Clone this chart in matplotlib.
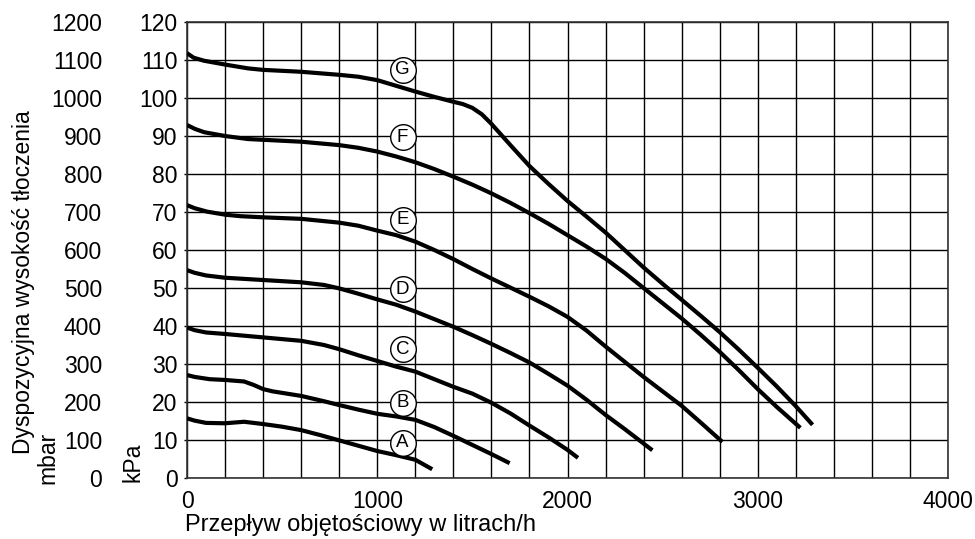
import matplotlib
matplotlib.use("Agg")
import matplotlib.pyplot as plt
from matplotlib.ticker import MultipleLocator, FixedLocator

plt.rcParams['font.family'] = ['Liberation Sans', 'DejaVu Sans']

# flow in l/h, head in kPa
flow_g = [0, 35, 90, 200, 320, 400, 600, 800, 900, 1000, 1100, 1200, 1300, 1400, 1450, 1500,
          1550, 1600, 1650, 1700, 1800, 1900, 2000, 2100, 2200, 2300, 2400, 2500, 2600, 2700,
          2800, 2900, 3000, 3100, 3200, 3288]
head_g = [111.8, 110.6, 109.8, 108.8, 107.8, 107.4, 106.9, 106.1, 105.6, 104.7, 103.2, 101.7,
          100.3, 99.0, 98.4, 97.4, 95.7, 93.2, 90.4, 87.6, 82.1, 77.4, 72.9, 68.8, 64.6, 60.0,
          55.4, 51.1, 46.9, 42.7, 38.4, 33.8, 29.0, 24.1, 18.9, 14.0]

flow_f = [0, 40, 90, 200, 320, 600, 800, 900, 1000, 1100, 1200, 1300, 1400, 1500, 1600, 1700,
          1800, 1900, 2000, 2100, 2200, 2300, 2400, 2500, 2600, 2700, 2800, 2900, 3000, 3100,
          3224]
head_f = [92.9, 91.9, 91.0, 90.0, 89.2, 88.5, 87.6, 86.9, 85.9, 84.6, 83.1, 81.3, 79.3, 77.2,
          74.9, 72.4, 69.7, 66.9, 63.9, 60.9, 57.7, 54.0, 50.0, 46.0, 42.0, 37.7, 33.2, 28.4,
          23.4, 18.7, 13.2]

flow_e = [0, 40, 105, 200, 280, 400, 600, 800, 900, 1000, 1100, 1200, 1300, 1400, 1500, 1600,
          1700, 1800, 1900, 2000, 2100, 2200, 2300, 2400, 2500, 2600, 2700, 2814]
head_e = [71.8, 71.0, 70.1, 69.3, 68.9, 68.6, 68.2, 67.2, 66.4, 65.1, 63.9, 62.2, 60.0, 57.6,
          55.0, 52.5, 50.1, 47.7, 45.2, 42.4, 38.8, 34.6, 30.6, 26.6, 22.8, 19.0, 14.6, 9.5]

flow_d = [0, 40, 100, 200, 400, 600, 720, 800, 900, 1000, 1100, 1200, 1300, 1400, 1500, 1600,
          1700, 1800, 1900, 2000, 2100, 2200, 2300, 2446]
head_d = [54.7, 54.0, 53.3, 52.7, 52.1, 51.5, 50.8, 49.9, 48.5, 47.0, 45.6, 43.8, 41.8, 39.8,
          37.6, 35.3, 32.9, 30.4, 27.4, 24.3, 20.6, 16.6, 12.9, 7.3]

flow_c = [0, 40, 100, 200, 400, 600, 720, 800, 900, 1000, 1100, 1200, 1300, 1400, 1500, 1600,
          1700, 1800, 1900, 2000, 2055]
head_c = [39.6, 38.9, 38.3, 37.9, 37.0, 36.1, 35.0, 33.9, 32.3, 30.8, 29.3, 28.0, 26.0, 24.0,
          22.2, 19.8, 17.0, 13.8, 10.7, 7.4, 5.3]

flow_b = [0, 40, 120, 200, 300, 350, 400, 450, 500, 600, 720, 800, 900, 1000, 1100, 1200, 1300,
          1400, 1500, 1600, 1696]
head_b = [27.1, 26.6, 26.0, 25.8, 25.4, 24.5, 23.4, 22.8, 22.4, 21.6, 20.2, 19.2, 18.0, 16.9,
          16.2, 15.3, 13.4, 11.1, 8.7, 6.3, 3.9]

flow_a = [0, 40, 100, 200, 300, 400, 500, 600, 700, 800, 900, 1000, 1100, 1200, 1289]
head_a = [15.7, 15.1, 14.5, 14.4, 14.8, 14.2, 13.5, 12.6, 11.3, 9.9, 8.5, 7.1, 6.0, 4.8, 2.3]

curve_names = ["G", "F", "E", "D", "C", "B", "A"]
curves = [(flow_g, head_g), (flow_f, head_f), (flow_e, head_e), (flow_d, head_d),
          (flow_c, head_c), (flow_b, head_b), (flow_a, head_a)]
label_x = 1133
label_y = [107.5, 89.7, 67.9, 49.7, 33.9, 19.8, 9.3]

mbar_ticks = [0, 100, 200, 300, 400, 500, 600, 700, 800, 900, 1000, 1100, 1200]

fs = 16.5

fig = plt.figure(figsize=(9.75, 5.39), dpi=100)
ax = fig.add_axes([187 / 975, 1 - 478 / 539, (948 - 187) / 975, (478 - 22) / 539])

for fl, hd in curves:
    ax.plot(fl, hd, color="black", lw=3.0, solid_capstyle="butt", solid_joinstyle="round", zorder=3)

for name, ly in zip(curve_names, label_y):
    ax.scatter([label_x], [ly], s=340, facecolor="white", edgecolor="black", linewidth=1.0, zorder=4)
    ax.text(label_x, ly, name, ha="center", va="center", fontsize=13.5, zorder=5)

ax.set_xlim(0, 4000)
ax.set_ylim(0, 120)
ax.xaxis.set_major_locator(MultipleLocator(1000))
ax.xaxis.set_minor_locator(MultipleLocator(200))
ax.yaxis.set_major_locator(MultipleLocator(10))
ax.grid(which="both", color="black", lw=1.0)
ax.set_axisbelow(True)
for sp in ax.spines.values():
    sp.set_linewidth(1.2)
    sp.set_color("#333333")

ax.tick_params(axis="x", which="both", length=0, pad=8.5, labelsize=fs)
ax.tick_params(axis="y", length=2.5, width=1.0, pad=4.3, labelsize=fs)

# mbar scale on the far left
sec = ax.secondary_yaxis(-0.108, functions=(lambda v: v * 10, lambda v: v / 10))
sec.yaxis.set_major_locator(FixedLocator(mbar_ticks))
sec.tick_params(length=0, pad=2, labelsize=fs)
sec.spines["left"].set_visible(False)

fig.text(133 / 975, 1 - 482 / 539, "kPa", rotation=90, ha="center", va="bottom", fontsize=fs)
fig.text(48 / 975, 1 - 484 / 539, "mbar", rotation=90, ha="center", va="bottom", fontsize=fs)
fig.text(24 / 975, 1 - 282 / 539, "Dyspozycyjna wysokość tłoczenia", rotation=90,
         ha="center", va="center", fontsize=fs)
fig.text(185 / 975, 1 - 531 / 539, "Przepływ objętościowy w litrach/h", ha="left",
         va="baseline", fontsize=17)

fig.savefig("out.png", dpi=100)
